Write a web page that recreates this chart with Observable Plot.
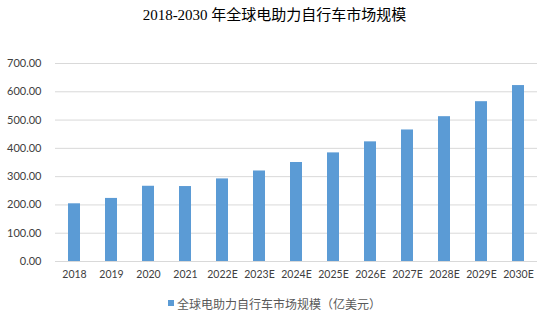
<!DOCTYPE html>
<html>
<head>
<meta charset="utf-8">
<script src="https://cdn.jsdelivr.net/npm/d3@7"></script>
<script src="https://cdn.jsdelivr.net/npm/@observablehq/plot@0.6"></script>
<style>
  html, body { margin: 0; padding: 0; background: #fff; }
  #wrap { width: 549px; }
  #title { height: 30px; line-height: 30px; text-align: center; font-family: "Liberation Serif", "Noto Sans CJK SC", serif; font-size: 15px; color: #000; }
  #legend { height: 30px; display: flex; align-items: center; justify-content: center; font-family: "Noto Sans CJK SC", sans-serif; font-size: 12px; color: #595959; }
  #legend .sw { width: 6px; height: 6px; background: #5B9BD5; margin-right: 3px; }
  svg { display: block; }
</style>
</head>
<body>
<div id="wrap">
  <div id="title">2018-2030 年全球电助力自行车市场规模</div>
  <div id="chart"></div>
  <div id="legend"><span class="sw"></span><span id="legtext"></span></div>
</div>
<script>
const years = ["2018","2019","2020","2021","2022E","2023E","2024E","2025E","2026E","2027E","2028E","2029E","2030E"];
const values = [204, 223, 266, 265, 292, 320, 350, 384, 423, 465, 512, 565, 622];
const yTicks = [0, 100, 200, 300, 400, 500, 600, 700];
const seriesName = "全球电助力自行车市场规模（亿美元）";

const data = years.map((y, i) => ({year: y, value: values[i]}));
document.getElementById("legtext").textContent = seriesName;

const chart = Plot.plot({
  width: 549,
  height: 258,
  marginTop: 33,
  marginBottom: 27,
  marginLeft: 55,
  marginRight: 12,
  style: { fontFamily: "Lato, 'Liberation Sans', sans-serif", fontSize: "11px", color: "#404040", background: "#fff" },
  x: { domain: years, paddingInner: 0.675, paddingOuter: 0.3375, label: null, tickSize: 0, tickPadding: 9 },
  y: { domain: [0, 700], ticks: yTicks, tickFormat: d3.format(".2f"), label: null, tickSize: 0, tickPadding: 14 },
  marks: [
    Plot.ruleY(yTicks, { stroke: "#d9d9d9", strokeWidth: 1 }),
    Plot.barY(data, { x: "year", y: "value", fill: "#5B9BD5" }),
    Plot.ruleY([0], { stroke: "#d9d9d9", strokeWidth: 1 }),
    Plot.axisX({ tickSize: 0, tickPadding: 9, fontSize: 10.5, label: null })
  ]
});
document.getElementById("chart").appendChild(chart);
</script>
</body>
</html>
